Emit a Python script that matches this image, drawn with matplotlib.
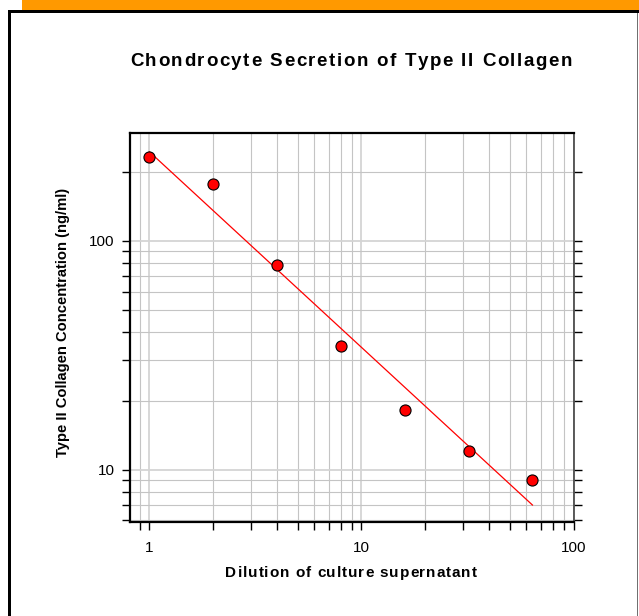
import matplotlib
matplotlib.use("Agg")
import matplotlib.pyplot as plt
from matplotlib.patches import Rectangle
from matplotlib.ticker import LogLocator, FixedLocator, NullFormatter

plt.rcParams['font.family'] = ['Liberation Sans', 'DejaVu Sans']

# data
dilution = [1, 2, 4, 8, 16, 32, 64]
collagen = [233, 178, 78.5, 34.6, 18.3, 12.0, 9.0]
fit_x = [1, 64]
fit_y = [245, 7.0]
x_ticks = [1, 10, 100]
y_ticks = [10, 100]

W, H = 639, 616


def spaced_text(fig, cx, cy, s, target_width, **kw):
    # draw text letter by letter so it can be spread to a given width (pixels)
    renderer = fig.canvas.get_renderer()
    widths = []
    for ch in s:
        t = fig.text(0, 0, ch if ch != ' ' else 'i', **kw)
        widths.append(t.get_window_extent(renderer).width)
        t.remove()
    gap = (target_width - sum(widths)) / (len(s) - 1)
    x = cx - target_width / 2
    for ch, w in zip(s, widths):
        if ch != ' ':
            fig.text(x / W, 1 - cy / H, ch, ha='left', va='center', **kw)
        x += w + gap


def main():
    fig = plt.figure(figsize=(W / 100, H / 100), dpi=100)
    fig.patch.set_facecolor('white')

    # orange banner and black frame
    fig.add_artist(Rectangle((22 / W, 1 - 10 / H), 1, 10 / H, transform=fig.transFigure,
                             facecolor='#FF9900', edgecolor='none'))
    fig.add_artist(Rectangle((8 / W, 1 - 13 / H), 1, 3 / H, transform=fig.transFigure,
                             facecolor='black', edgecolor='none'))
    fig.add_artist(Rectangle((8 / W, 0), 3 / W, 1 - 10 / H, transform=fig.transFigure,
                             facecolor='black', edgecolor='none'))
    fig.add_artist(Rectangle((636.5 / W, 0), 1.5 / W, 1 - 13 / H, transform=fig.transFigure,
                             facecolor='#707070', edgecolor='none'))

    ax = fig.add_axes([130 / W, 1 - 522 / H, 444 / W, 389 / H])
    ax.set_xscale('log')
    ax.set_yscale('log')
    ax.set_xlim(0.81, 100.5)
    ax.set_ylim(5.9, 296)

    ax.grid(True, which='major', color='#d4d4d4', linewidth=1.3)
    ax.grid(True, which='minor', color='#c4c4c4', linewidth=0.8)
    ax.set_axisbelow(True)

    ax.plot(fit_x, fit_y, '-', color='red', linewidth=0.9, zorder=3)
    ax.plot(dilution, collagen, 'o', color='red', markeredgecolor='black',
            markeredgewidth=0.8, markersize=8, zorder=4)

    ax.xaxis.set_major_locator(FixedLocator(x_ticks))
    ax.set_xticklabels([str(v) for v in x_ticks])
    ax.yaxis.set_major_locator(FixedLocator(y_ticks))
    ax.set_yticklabels([str(v) for v in y_ticks])
    ax.xaxis.set_minor_locator(LogLocator(base=10, subs=range(2, 10)))
    ax.yaxis.set_minor_locator(LogLocator(base=10, subs=range(2, 10)))
    ax.xaxis.set_minor_formatter(NullFormatter())
    ax.yaxis.set_minor_formatter(NullFormatter())

    ax.tick_params(which='both', direction='out', length=6, width=1, color='black',
                   labelsize=11, left=True, right=True, bottom=True, top=False)
    ax.tick_params(axis='x', which='both', pad=8)
    ax.tick_params(axis='y', which='both', pad=5)

    for side in ['left', 'bottom', 'top']:
        ax.spines[side].set_color('black')
        ax.spines[side].set_linewidth(1.6)
    ax.spines['right'].set_color('#404040')
    ax.spines['right'].set_linewidth(1.2)

    spaced_text(fig, 351, 62, 'Chondrocyte Secretion of Type II Collagen', 442,
                fontsize=13.5, fontweight='bold')
    spaced_text(fig, 351, 573, 'Dilution of culture supernatant', 251,
                fontsize=11, fontweight='bold')
    fig.text(63 / W, 1 - 322 / H, 'Type II Collagen Concentration (ng/ml)',
             ha='center', va='center', rotation=90, fontsize=10.6, fontweight='bold')

    fig.savefig('out.png', dpi=100)


if __name__ == '__main__':
    main()
